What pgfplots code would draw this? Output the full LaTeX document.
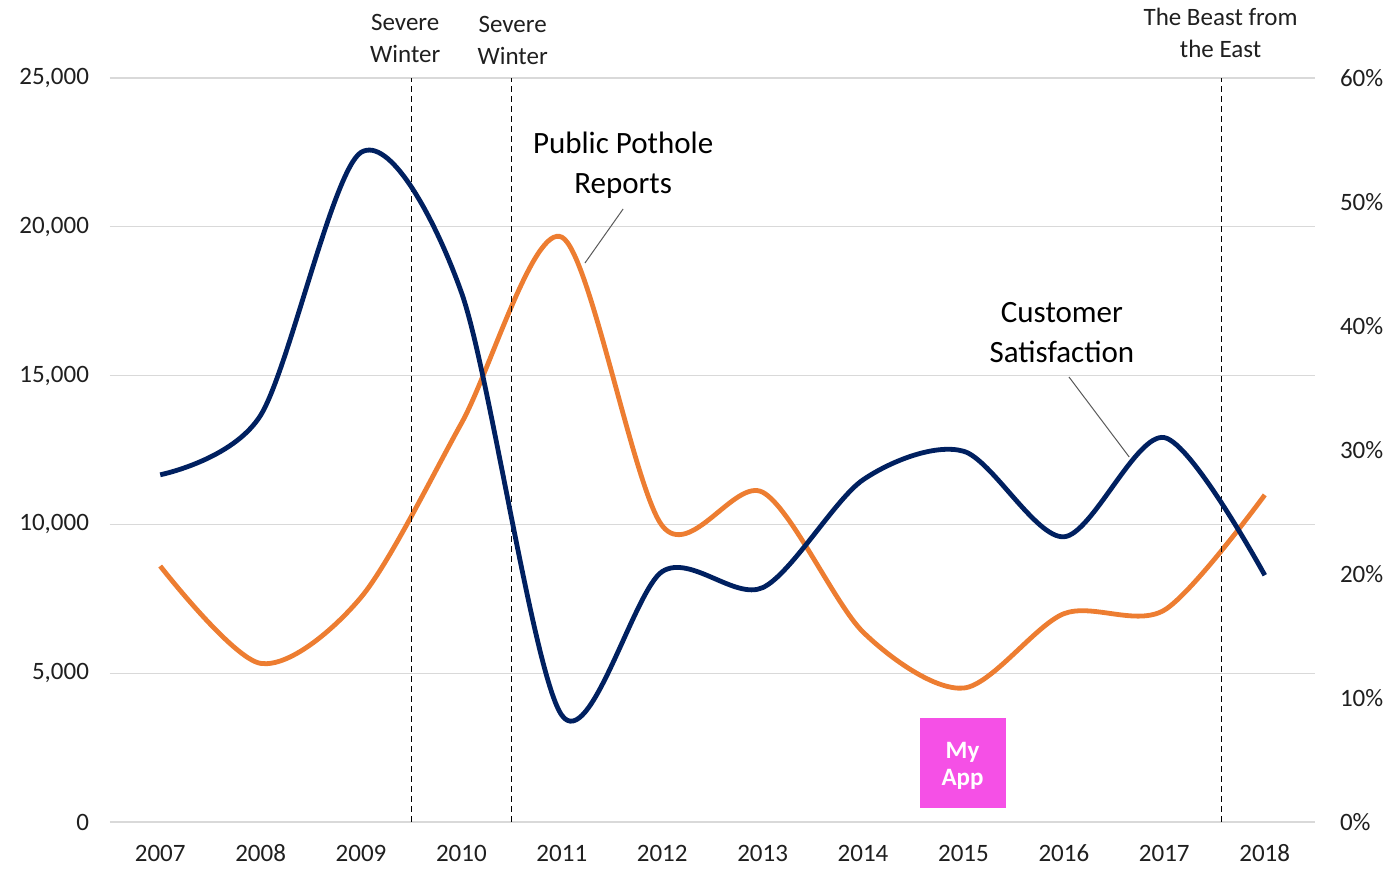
\documentclass[border=0pt]{standalone}
\usepackage{pgfplots}
\pgfplotsset{compat=1.18}
\usepackage{fontspec}
\setmainfont{Carlito}
\definecolor{potorange}{HTML}{ED7D31}
\definecolor{satnavy}{HTML}{002060}
\definecolor{appmagenta}{HTML}{F550E6}
\definecolor{gridgray}{HTML}{D9D9D9}
\definecolor{ticktext}{HTML}{1F1F1F}

\begin{document}
\begin{tikzpicture}
\path[use as bounding box] (-55pt,-24pt) rectangle (639.5pt,411pt);
\pgfplotsset{
  base/.style={
    scale only axis, width=602.5pt, height=372pt,
    xmin=2006.5, xmax=2018.5,
    axis line style={draw=none}, tick style={draw=none},
    tick label style={font=\fontsize{12.5}{15}\selectfont, text=ticktext},
    /pgf/number format/assume math mode=true,
    clip=false,
  }
}
\begin{axis}[base,
  ymin=0, ymax=25000, ytick={0,5000,...,25000},
  ymajorgrids, grid style={gridgray, line width=0.6pt},
  xtick={2007,...,2018},
  xticklabel style={/pgf/number format/1000 sep=, anchor=base, yshift=-20pt},
  yticklabel style={/pgf/number format/1000 sep={,}, xshift=-7pt},
  scaled y ticks=false,
]
% Public pothole reports
\addplot[potorange, line width=2.4pt, smooth] coordinates {
  (2007,8600) (2008,5330) (2009,7550) (2010,13400) (2011,19650) (2012,9950)
  (2013,11080) (2014,6380) (2015,4500) (2016,7000) (2017,7120) (2018,10990)
};
% event lines
\draw[black, line width=0.7pt, dash pattern=on 3pt off 2pt] (axis cs:2009.5,0) -- (axis cs:2009.5,25000);
\draw[black, line width=0.7pt, dash pattern=on 3pt off 2pt] (axis cs:2010.5,0) -- (axis cs:2010.5,25000);
\draw[black, line width=0.7pt, dash pattern=on 3pt off 2pt] (axis cs:2017.57,0) -- (axis cs:2017.57,25000);
\node[align=center, font=\fontsize{12.5}{16}\selectfont, text=ticktext] at (axis cs:2009.44,26344) {Severe\\Winter};
\node[align=center, font=\fontsize{12.5}{16}\selectfont, text=ticktext] at (axis cs:2010.51,26277) {Severe\\Winter};
\node[align=center, font=\fontsize{12.5}{16}\selectfont, text=ticktext] at (axis cs:2017.56,26512) {The Beast from\\the East};
% annotations
\node[align=center, font=\fontsize{15.5}{20}\selectfont] at (axis cs:2011.61,22080) {Public Pothole\\Reports};
\draw[black!65, line width=0.5pt] (axis cs:2011.61,20598) -- (axis cs:2011.23,18783);
\node[align=center, font=\fontsize{15.5}{20}\selectfont] at (axis cs:2015.98,16440) {Customer\\Satisfaction};
\draw[black!65, line width=0.5pt] (axis cs:2016.05,14953) -- (axis cs:2016.65,12265);
% My App box
\fill[appmagenta] (axis cs:2014.566,470) rectangle (axis cs:2015.42,3495);
\node[align=center, text=white, font=\bfseries\fontsize{12.5}{13.5}\selectfont] at (axis cs:2014.99,1880) {My\\App};
\end{axis}
\begin{axis}[base,
  axis y line*=right, axis x line=none,
  ymin=0, ymax=60, ytick={0,10,...,60},
  yticklabel={\pgfmathprintnumber{\tick}\%},
  yticklabel style={xshift=9pt},
]
% Customer satisfaction
\addplot[satnavy, line width=2.4pt, smooth] coordinates {
  (2007,28.0) (2008,32.8) (2009,54.0) (2010,42.7) (2011,8.6) (2012,20.2)
  (2013,18.9) (2014,27.6) (2015,29.9) (2016,23.0) (2017,31.0) (2018,19.9)
};
\end{axis}
\end{tikzpicture}
\end{document}
